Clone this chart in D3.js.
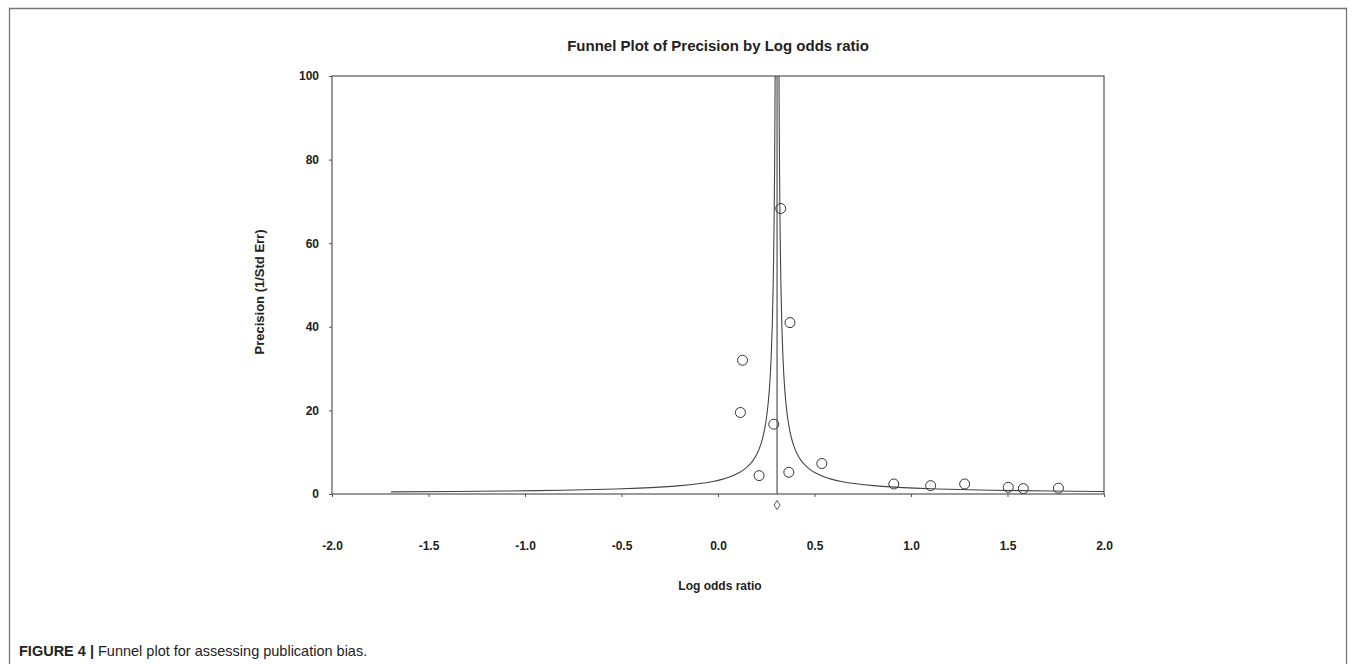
<!DOCTYPE html>
<html>
<head>
<meta charset="utf-8">
<script src="https://cdn.jsdelivr.net/npm/d3@7"></script>
<style>
  body { margin: 0; background: #fff; }
  svg { display: block; }
</style>
</head>
<body>
<script>
const wSvg = 1355;
const hSvg = 664;

// study points
const logOdds = [0.325, 0.373, 0.127, 0.116, 0.289, 0.213, 0.367, 0.538, 0.911, 1.102, 1.278, 1.504, 1.582, 1.764];
const precision = [68.3, 41.0, 32.0, 19.5, 16.7, 4.4, 5.2, 7.3, 2.4, 2.0, 2.4, 1.6, 1.3, 1.4];

const summaryEffect = 0.306;
const limitZ = 1.0;
const funnelPrecision = [0.5, 0.6, 0.7, 0.8, 0.9, 1, 1.2, 1.4, 1.7, 2, 2.5, 3, 3.5, 4, 5, 6, 7, 8, 10, 12, 15, 18, 22, 27, 33, 40, 50, 60, 70, 80, 90, 100];

const xTicks = [-2.0, -1.5, -1.0, -0.5, 0.0, 0.5, 1.0, 1.5, 2.0];
const yTicks = [0, 20, 40, 60, 80, 100];

const plot = { left: 332, right: 1104, top: 76, bottom: 494 };
const font = "'Liberation Sans', Arial, sans-serif";

let xScale = d3.scaleLinear([-2, 2], [plot.left, plot.right]);
let yScale = d3.scaleLinear([0, 100], [plot.bottom, plot.top]);

let svg = d3.select("body")
  .append("svg")
  .attr("width", wSvg)
  .attr("height", hSvg)
  .style("font-family", font);

// outer figure frame
svg.append("path")
  .attr("d", `M9.5,${hSvg + 5}V8.5H1346.5V${hSvg + 5}`)
  .attr("fill", "none")
  .attr("stroke", "#777")
  .attr("stroke-width", 1.3);

svg.append("text")
  .attr("x", 718)
  .attr("y", 51)
  .attr("text-anchor", "middle")
  .attr("font-size", "15px")
  .attr("font-weight", "bold")
  .attr("fill", "#222")
  .text("Funnel Plot of Precision by Log odds ratio");

// plot box
svg.append("rect")
  .attr("x", plot.left)
  .attr("y", plot.top)
  .attr("width", plot.right - plot.left)
  .attr("height", plot.bottom - plot.top)
  .attr("fill", "none")
  .attr("stroke", "#555")
  .attr("stroke-width", 1.2);

let xAxis = svg.append("g")
  .attr("transform", `translate(0, ${plot.bottom})`)
  .call(d3.axisBottom(xScale).tickValues(xTicks).tickSize(3).tickFormat(d => d.toFixed(1)));

let yAxis = svg.append("g")
  .attr("transform", `translate(${plot.left}, 0)`)
  .call(d3.axisLeft(yScale).tickValues(yTicks).tickSize(3).tickPadding(10));

for (let ax of [xAxis, yAxis]) {
  ax.select(".domain").remove();
  ax.selectAll("line").attr("stroke", "#555");
  ax.selectAll("text")
    .attr("font-family", font)
    .attr("font-size", "12px")
    .attr("font-weight", "bold")
    .attr("fill", "#222");
}
xAxis.selectAll("text").attr("dy", "0.32em").attr("y", 52);

svg.append("text")
  .attr("x", 720)
  .attr("y", 590)
  .attr("text-anchor", "middle")
  .attr("font-size", "12px")
  .attr("font-weight", "bold")
  .attr("fill", "#222")
  .text("Log odds ratio");

svg.append("text")
  .attr("transform", `translate(264, 292) rotate(-90)`)
  .attr("text-anchor", "middle")
  .attr("font-size", "13px")
  .attr("font-weight", "bold")
  .attr("fill", "#222")
  .text("Precision (1/Std Err)");

svg.append("clipPath")
  .attr("id", "clip")
  .append("rect")
  .attr("x", plot.left)
  .attr("y", plot.top)
  .attr("width", plot.right - plot.left)
  .attr("height", plot.bottom - plot.top);

let viz = svg.append("g").attr("clip-path", "url(#clip)");

// funnel limits and summary line
let funnelLine = d3.line()
  .x(d => xScale(d[0]))
  .y(d => yScale(d[1]))
  .curve(d3.curveMonotoneY);

for (let side of [-1, 1]) {
  viz.append("path")
    .datum(funnelPrecision.map(p => [summaryEffect + side * limitZ / p, p]))
    .attr("d", funnelLine)
    .attr("fill", "none")
    .attr("stroke", "#444")
    .attr("stroke-width", 1.1);
}

viz.append("line")
  .attr("x1", xScale(summaryEffect))
  .attr("x2", xScale(summaryEffect))
  .attr("y1", yScale(0))
  .attr("y2", yScale(100))
  .attr("stroke", "#444")
  .attr("stroke-width", 1.1);

svg.append("g")
  .selectAll("circle")
  .data(logOdds)
  .enter()
  .append("circle")
  .attr("cx", d => xScale(d))
  .attr("cy", (d, i) => yScale(precision[i]))
  .attr("r", 5)
  .attr("fill", "none")
  .attr("stroke", "#333")
  .attr("stroke-width", 1);

// summary diamond below the axis
let dx = xScale(summaryEffect);
let dy = yScale(0) + 11;
svg.append("path")
  .attr("d", `M${dx},${dy - 4.5}L${dx + 3},${dy}L${dx},${dy + 4.5}L${dx - 3},${dy}Z`)
  .attr("fill", "none")
  .attr("stroke", "#444")
  .attr("stroke-width", 0.9);

let caption = svg.append("text")
  .attr("x", 19)
  .attr("y", 656)
  .attr("font-size", "14.5px")
  .attr("fill", "#222");
caption.append("tspan").attr("font-weight", "bold").text("FIGURE 4 | ");
caption.append("tspan").text("Funnel plot for assessing publication bias.");
</script>
</body>
</html>
